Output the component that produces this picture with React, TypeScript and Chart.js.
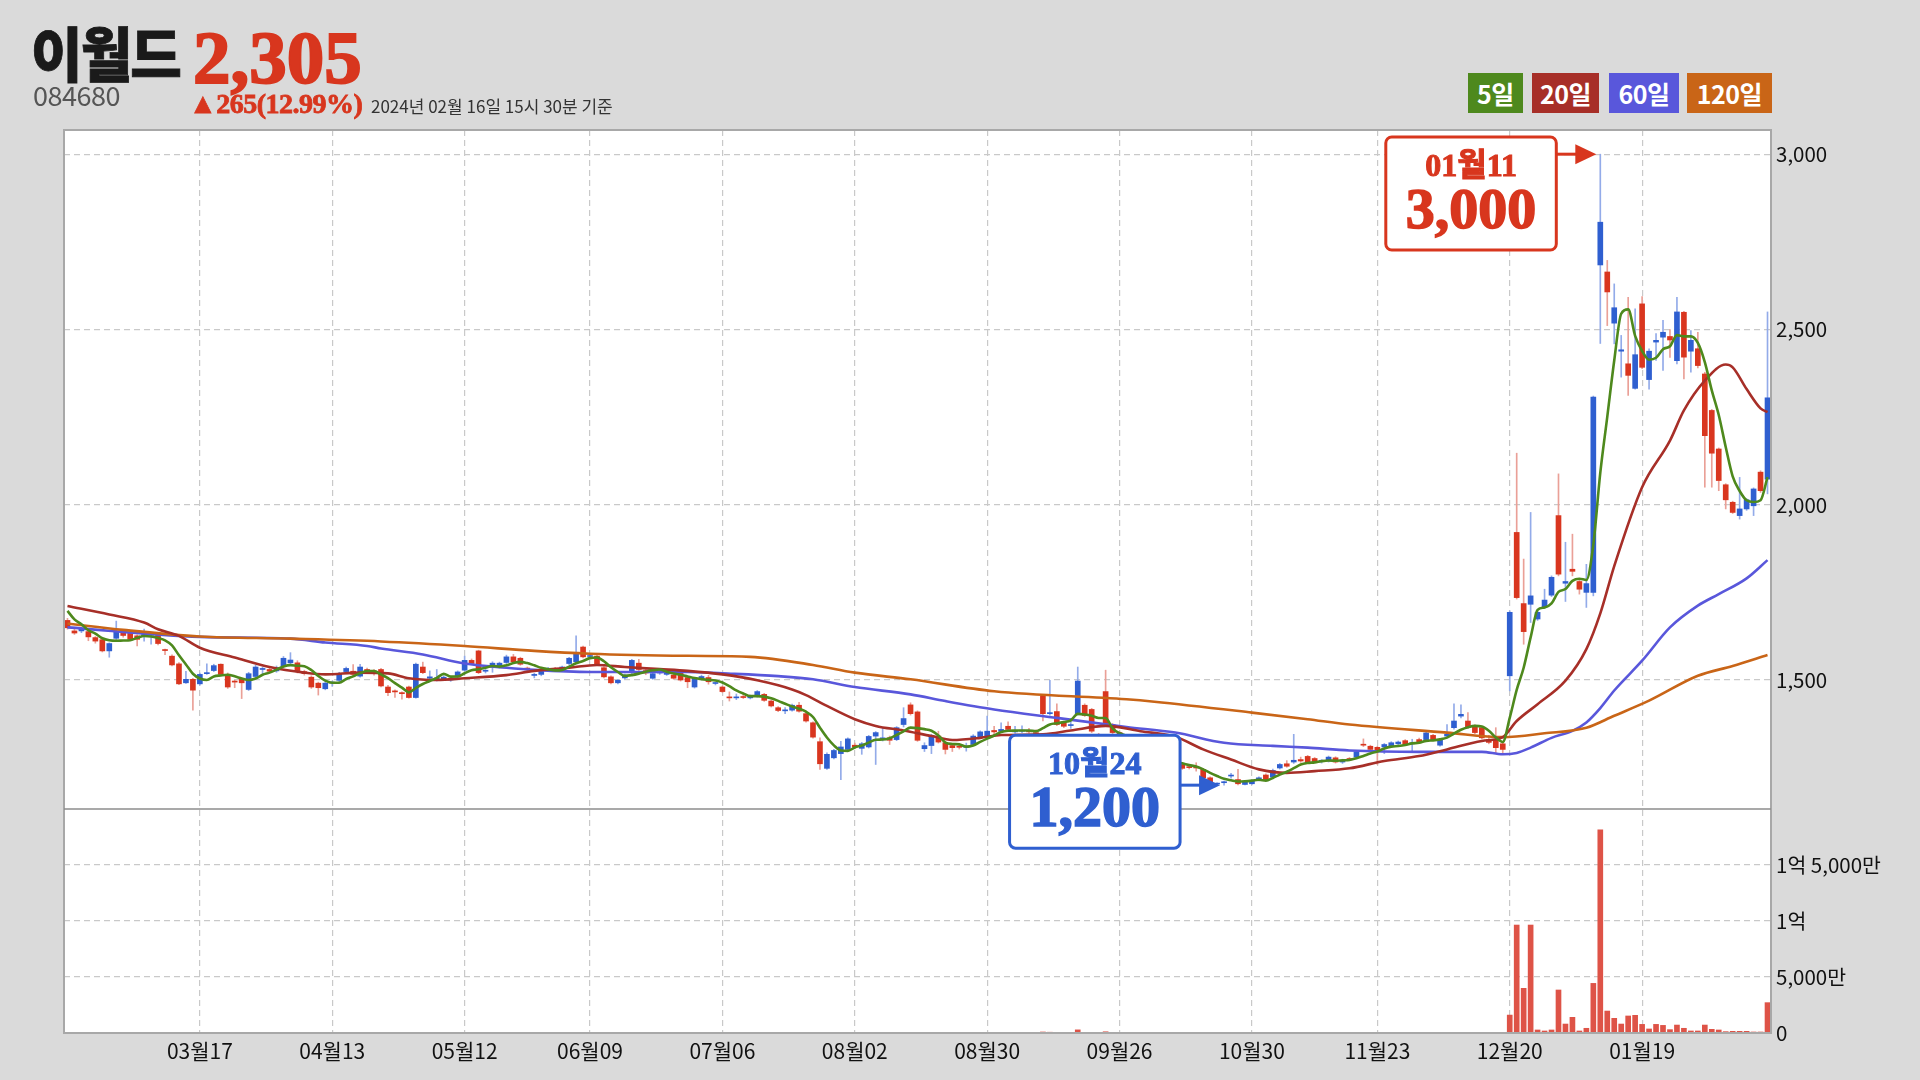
import React, { useEffect, useRef } from 'react';
import { Chart, registerables } from 'chart.js';

Chart.register(...registerables);

// ---------- categories ----------
const START_DATE = '2023-02-17';
const END_DATE = '2024-02-16';
const HOLIDAYS = [
  '2023-03-01', '2023-05-01', '2023-05-05', '2023-05-29', '2023-06-06', '2023-08-15',
  '2023-09-28', '2023-09-29', '2023-10-02', '2023-10-03', '2023-10-09', '2023-12-25',
  '2023-12-29', '2024-01-01', '2024-02-09', '2024-02-12',
];
const TICK_LABELS = ['03월17', '04월13', '05월12', '06월09', '07월06', '08월02', '08월30', '09월26', '10월30', '11월23', '12월20', '01월19'];

// ---------- series values (원) ----------
const OPEN = [
  1670, 1640, 1640, 1638, 1621, 1615, 1583, 1619, 1635, 1633,
  1626, 1625, 1628, 1630, 1586, 1568, 1546, 1492, 1502, 1489,
  1518, 1527, 1545, 1516, 1497, 1504, 1473, 1510, 1530, 1530,
  1526, 1539, 1549, 1549, 1524, 1508, 1491, 1475, 1491, 1499,
  1524, 1525, 1511, 1530, 1525, 1530, 1480, 1469, 1464, 1480,
  1450, 1537, 1505, 1503, 1503, 1500, 1509, 1528, 1556, 1583,
  1525, 1537, 1537, 1550, 1566, 1562, 1534, 1513, 1516, 1530,
  1533, 1530, 1547, 1552, 1594, 1567, 1568, 1535, 1509, 1492,
  1506, 1521, 1548, 1527, 1505, 1520, 1516, 1514, 1521, 1507,
  1480, 1505, 1507, 1490, 1480, 1451, 1449, 1452, 1449, 1454,
  1459, 1440, 1421, 1412, 1414, 1428, 1404, 1378, 1324, 1248,
  1278, 1290, 1302, 1314, 1305, 1309, 1340, 1331, 1335, 1330,
  1373, 1429, 1409, 1304, 1313, 1340, 1321, 1313, 1310, 1308,
  1316, 1338, 1340, 1356, 1354, 1368, 1352, 1354, 1356, 1350,
  1454, 1404, 1410, 1378, 1370, 1404, 1428, 1416, 1345, 1467,
  1373, 1350, 1330, 1320, 1300, 1292, 1282, 1276, 1270, 1262,
  1259, 1252, 1252, 1245, 1221, 1203, 1207, 1226, 1216, 1202,
  1204, 1216, 1229, 1223, 1249, 1261, 1266, 1273, 1282, 1276,
  1267, 1269, 1278, 1266, 1276, 1280, 1316, 1311, 1308, 1309,
  1311, 1318, 1327, 1318, 1330, 1330, 1342, 1314, 1340, 1364,
  1397, 1383, 1369, 1364, 1330, 1328, 1318, 1512, 1921, 1718,
  1716, 1674, 1707, 1742, 1969, 1776, 1816, 1781, 1750, 1750,
  2684, 2664, 2518, 2438, 2402, 2332, 2573, 2357, 2464, 2478,
  2480, 2411, 2549, 2438, 2445, 2373, 2269, 2159, 2057, 2007,
  1969, 1988, 1997, 2093, 2073,
];
const HIGH = [
  1676, 1645, 1650, 1641, 1624, 1618, 1606, 1668, 1640, 1636,
  1629, 1645, 1636, 1635, 1588, 1572, 1550, 1525, 1505, 1520,
  1546, 1545, 1546, 1520, 1499, 1507, 1522, 1542, 1537, 1534,
  1540, 1567, 1578, 1555, 1528, 1512, 1494, 1495, 1497, 1522,
  1537, 1544, 1545, 1534, 1530, 1533, 1485, 1472, 1466, 1483,
  1548, 1551, 1526, 1530, 1512, 1508, 1526, 1568, 1560, 1585,
  1530, 1552, 1551, 1571, 1573, 1565, 1537, 1519, 1533, 1536,
  1536, 1540, 1565, 1626, 1597, 1572, 1571, 1538, 1512, 1502,
  1517, 1559, 1559, 1530, 1521, 1528, 1530, 1517, 1524, 1511,
  1505, 1514, 1513, 1494, 1483, 1466, 1460, 1460, 1457, 1470,
  1462, 1443, 1424, 1421, 1431, 1436, 1407, 1381, 1335, 1292,
  1302, 1325, 1335, 1320, 1322, 1342, 1353, 1362, 1340, 1367,
  1421, 1435, 1412, 1321, 1345, 1354, 1324, 1316, 1314, 1320,
  1344, 1355, 1397, 1368, 1378, 1381, 1368, 1369, 1362, 1358,
  1458, 1499, 1432, 1381, 1390, 1537, 1432, 1419, 1348, 1528,
  1376, 1354, 1340, 1345, 1304, 1296, 1286, 1280, 1273, 1266,
  1262, 1256, 1264, 1248, 1224, 1207, 1212, 1234, 1245, 1214,
  1216, 1224, 1232, 1246, 1262, 1270, 1345, 1280, 1285, 1279,
  1273, 1283, 1281, 1274, 1279, 1298, 1332, 1314, 1311, 1319,
  1324, 1326, 1330, 1331, 1334, 1352, 1345, 1333, 1373, 1432,
  1429, 1407, 1372, 1367, 1342, 1364, 1321, 1697, 2147, 1845,
  1978, 1697, 1759, 1797, 2088, 1893, 1916, 1785, 1830, 2310,
  3000, 2697, 2630, 2483, 2592, 2559, 2594, 2445, 2488, 2526,
  2500, 2592, 2552, 2497, 2492, 2378, 2272, 2162, 2060, 2010,
  2078, 2017, 2048, 2097, 2550,
];
const LOW = [
  1645, 1630, 1635, 1612, 1605, 1580, 1565, 1615, 1622, 1612,
  1597, 1611, 1602, 1600, 1572, 1540, 1487, 1490, 1414, 1485,
  1516, 1524, 1514, 1476, 1478, 1447, 1470, 1506, 1516, 1520,
  1522, 1535, 1545, 1520, 1514, 1476, 1457, 1472, 1482, 1495,
  1520, 1512, 1508, 1522, 1514, 1480, 1455, 1450, 1445, 1448,
  1448, 1518, 1497, 1497, 1499, 1496, 1506, 1525, 1544, 1518,
  1520, 1522, 1534, 1547, 1549, 1542, 1527, 1506, 1512, 1526,
  1524, 1527, 1544, 1549, 1563, 1564, 1542, 1506, 1489, 1489,
  1503, 1518, 1527, 1515, 1502, 1516, 1513, 1502, 1497, 1478,
  1477, 1500, 1488, 1486, 1464, 1440, 1444, 1447, 1446, 1451,
  1439, 1423, 1410, 1404, 1411, 1408, 1380, 1334, 1245, 1245,
  1275, 1216, 1299, 1305, 1288, 1306, 1259, 1326, 1316, 1327,
  1366, 1400, 1325, 1296, 1290, 1320, 1289, 1296, 1303, 1297,
  1313, 1335, 1337, 1340, 1350, 1356, 1348, 1350, 1348, 1344,
  1383, 1400, 1370, 1364, 1362, 1400, 1396, 1350, 1331, 1370,
  1347, 1326, 1314, 1296, 1286, 1276, 1270, 1264, 1258, 1254,
  1245, 1246, 1240, 1218, 1204, 1201, 1200, 1220, 1201, 1201,
  1202, 1212, 1213, 1220, 1246, 1251, 1262, 1265, 1262, 1264,
  1263, 1266, 1263, 1262, 1270, 1277, 1310, 1299, 1259, 1290,
  1308, 1315, 1313, 1295, 1321, 1327, 1327, 1311, 1336, 1360,
  1392, 1362, 1347, 1332, 1318, 1292, 1292, 1469, 1731, 1602,
  1664, 1670, 1704, 1738, 1797, 1724, 1797, 1745, 1707, 1740,
  2460, 2511, 2459, 2364, 2312, 2330, 2388, 2330, 2412, 2383,
  2420, 2402, 2359, 2378, 2390, 2050, 2050, 2040, 1988, 1975,
  1959, 1984, 1969, 2035, 2031,
];
const CLOSE = [
  1649, 1634, 1645, 1623, 1611, 1583, 1604, 1638, 1627, 1616,
  1616, 1630, 1632, 1604, 1584, 1543, 1489, 1502, 1471, 1516,
  1521, 1541, 1516, 1480, 1494, 1492, 1518, 1537, 1533, 1525,
  1535, 1562, 1557, 1525, 1518, 1480, 1478, 1491, 1494, 1518,
  1533, 1516, 1537, 1525, 1518, 1483, 1464, 1466, 1461, 1450,
  1545, 1521, 1509, 1505, 1508, 1505, 1523, 1556, 1547, 1521,
  1527, 1548, 1548, 1566, 1552, 1545, 1530, 1516, 1530, 1533,
  1528, 1537, 1562, 1578, 1566, 1569, 1545, 1509, 1492, 1499,
  1514, 1556, 1530, 1520, 1518, 1525, 1526, 1505, 1500, 1495,
  1502, 1510, 1495, 1491, 1467, 1449, 1450, 1450, 1454, 1467,
  1442, 1426, 1413, 1413, 1428, 1411, 1383, 1337, 1261, 1288,
  1299, 1309, 1332, 1309, 1318, 1339, 1350, 1335, 1328, 1364,
  1390, 1404, 1328, 1313, 1342, 1323, 1302, 1307, 1308, 1310,
  1340, 1352, 1354, 1352, 1359, 1359, 1354, 1356, 1352, 1347,
  1404, 1407, 1373, 1368, 1372, 1497, 1399, 1354, 1335, 1373,
  1350, 1330, 1318, 1300, 1290, 1280, 1275, 1268, 1262, 1258,
  1248, 1250, 1249, 1221, 1207, 1204, 1209, 1228, 1204, 1211,
  1213, 1221, 1216, 1242, 1259, 1254, 1271, 1269, 1264, 1267,
  1271, 1280, 1266, 1270, 1272, 1295, 1314, 1302, 1297, 1316,
  1321, 1323, 1316, 1320, 1324, 1349, 1330, 1330, 1345, 1383,
  1402, 1366, 1350, 1335, 1322, 1307, 1302, 1693, 1735, 1638,
  1740, 1693, 1728, 1793, 1802, 1781, 1810, 1759, 1775, 2307,
  2806, 2607, 2562, 2442, 2369, 2428, 2392, 2438, 2469, 2492,
  2470, 2550, 2421, 2469, 2397, 2197, 2147, 2069, 2014, 1978,
  1988, 2014, 2045, 2040, 2305,
];
// 거래량 (만주)
const VOLUME = [
  35, 28, 22, 30, 25, 40, 33, 45, 26, 24, 22, 30, 28, 35, 30, 42, 55, 38, 60, 40,
  32, 30, 28, 35, 25, 30, 38, 34, 22, 20, 24, 36, 30, 28, 22, 30, 26, 24, 20, 28,
  26, 30, 34, 22, 20, 28, 30, 22, 20, 24, 58, 40, 28, 22, 20, 18, 26, 38, 26, 34,
  20, 24, 22, 30, 26, 24, 18, 20, 24, 20, 18, 20, 30, 62, 40, 22, 26, 30, 26, 20,
  22, 36, 30, 20, 22, 20, 24, 22, 26, 24, 26, 20, 22, 18, 24, 26, 18, 16, 18, 22,
  22, 24, 20, 18, 22, 22, 30, 40, 55, 38, 30, 42, 36, 22, 24, 30, 36, 26, 20, 32,
  40, 38, 44, 28, 30, 24, 22, 18, 16, 18, 26, 24, 36, 22, 24, 26, 18, 16, 18, 20,
  90, 70, 45, 30, 28, 280, 60, 45, 30, 110, 45, 36, 30, 34, 28, 24, 22, 20, 18, 20,
  20, 18, 22, 28, 26, 20, 22, 24, 26, 20, 18, 22, 20, 26, 28, 24, 40, 24, 22, 20,
  18, 22, 20, 18, 20, 26, 34, 24, 28, 22, 20, 18, 24, 20, 22, 30, 24, 26, 22, 44,
  50, 36, 30, 32, 24, 48, 40,
  1600, 9640, 3990, 9640, 270, 180, 270, 3840, 800, 1400,
  180, 420, 4430, 18130, 1960, 1310, 800, 1520, 1580, 770,
  360, 770, 680, 300, 710, 420, 180, 180, 710, 330,
  270, 120, 150, 150, 150, 90, 90, 2710,
];

// 이동평균
const MA5_HEAD = [1697, 1673, 1659, 1642];
const MA20_PTS = [
  [0, 1711], [6, 1687], [11, 1664], [13, 1645], [16, 1626], [19, 1592], [24, 1564], [29, 1537],
  [34, 1521], [37, 1516], [42, 1521], [46, 1519], [49, 1505], [53, 1500], [57, 1505], [63, 1514],
  [67, 1526], [72, 1535], [76, 1543], [80, 1537], [85, 1531], [89, 1526], [94, 1516], [99, 1499],
  [104, 1473], [106, 1457], [109, 1426], [113, 1388], [116, 1369], [120, 1356], [124, 1340],
  [127, 1329], [131, 1335], [134, 1343], [140, 1345], [144, 1356], [149, 1369], [154, 1354],
  [159, 1338], [163, 1302], [167, 1273], [171, 1245], [175, 1235], [179, 1240], [184, 1248],
  [189, 1269], [194, 1283], [198, 1302], [203, 1326], [206, 1337], [208, 1383], [211, 1431],
  [215, 1498], [218, 1588], [220, 1690], [222, 1825], [226, 2050], [230, 2183], [232, 2269],
  [235, 2354], [238, 2400], [239, 2392], [241, 2330], [243, 2275], [244, 2264],
];
const MA60_PTS = [
  [0, 1650], [19, 1623], [32, 1618], [37, 1607], [43, 1597], [45, 1590], [51, 1573], [57, 1547],
  [63, 1535], [67, 1529], [75, 1523], [82, 1523], [89, 1523], [94, 1519], [102, 1511], [107, 1502],
  [113, 1480], [121, 1459], [126, 1440], [133, 1416], [142, 1392], [152, 1366], [159, 1350],
  [166, 1321], [173, 1312], [178, 1307], [184, 1299], [194, 1295], [203, 1295], [206, 1288],
  [208, 1292], [210, 1307], [213, 1335], [216, 1355], [218, 1379], [220, 1420], [222, 1470],
  [226, 1555], [230, 1650], [234, 1712], [237, 1745], [241, 1790], [244, 1842],
];
const MA120_PTS = [
  [0, 1661], [8, 1643], [19, 1624], [32, 1618], [45, 1610], [57, 1597], [67, 1583], [75, 1575],
  [89, 1569], [98, 1566], [107, 1543], [113, 1521], [121, 1502], [133, 1468], [152, 1445],
  [156, 1438], [170, 1407], [178, 1388], [184, 1373], [198, 1350], [206, 1337], [212, 1348],
  [218, 1364], [222, 1398], [227, 1441], [234, 1512], [239, 1540], [244, 1571],
];

const MA_NAMES = ['5일', '20일', '60일', '120일'];
const MA_COLORS = ['#4e891d', '#a72f28', '#5957db', '#c96517'];

const PRICE_TICKS = [1500, 2000, 2500, 3000];
const VOLUME_TICKS = [0, 5000, 10000, 15000];
const PRICE_MIN = 1132;
const PRICE_MAX = 3069;
const VOLUME_MAX = 20000;

const STOCK_NAME = '이월드';
const STOCK_CODE = '084680';
const LAST_PRICE = 2305;
const CHANGE = 265;
const CHANGE_PCT = 12.99;
const AS_OF = '2024년 02월 16일 15시 30분 기준';

// ---------- helpers ----------
function buildLabels(): string[] {
  const out: string[] = [];
  const [sy, sm, sd] = START_DATE.split('-').map(Number);
  const [ey, em, ed] = END_DATE.split('-').map(Number);
  const d = new Date(Date.UTC(sy, sm - 1, sd));
  const end = Date.UTC(ey, em - 1, ed);
  while (d.getTime() <= end) {
    const dow = d.getUTCDay();
    const iso = d.toISOString().slice(0, 10);
    if (dow !== 0 && dow !== 6 && !HOLIDAYS.includes(iso)) {
      out.push(`${iso.slice(5, 7)}월${iso.slice(8, 10)}`);
    }
    d.setUTCDate(d.getUTCDate() + 1);
  }
  return out;
}
const LABELS = buildLabels();
const N = LABELS.length;

function sparse(pts: number[][]): (number | null)[] {
  const arr: (number | null)[] = new Array(N).fill(null);
  pts.forEach(([i, v]) => { arr[i] = v; });
  return arr;
}
function ma5(): number[] {
  return CLOSE.map((_, i) => {
    if (i < MA5_HEAD.length) return MA5_HEAD[i];
    let s = 0;
    for (let k = i - 4; k <= i; k++) s += CLOSE[k];
    return s / 5;
  });
}
function fmtVolume(v: number): string {
  if (v === 0) return '0';
  const eok = Math.floor(v / 10000);
  const man = v % 10000;
  if (eok > 0) return man ? `${eok}억 ${man.toLocaleString('en-US')}만` : `${eok}억`;
  return `${man.toLocaleString('en-US')}만`;
}

const UP = '#2f5fd0';
const DOWN = '#d9361f';
const UP_WICK = '#93abe9';
const DOWN_WICK = '#eaa097';

function drawCallout(ctx: CanvasRenderingContext2D, chart: any, idx: number, price: number, color: string) {
  const x = chart.scales.x.getPixelForValue(idx);
  const y = chart.scales.y.getPixelForValue(price);
  const tipX = x - 4;
  const boxRight = tipX - 40;
  const dateText = LABELS[idx];
  const valueText = price.toLocaleString('en-US');
  ctx.font = "bold 58px 'Liberation Serif', serif";
  const w = ctx.measureText(valueText).width + 40;
  const h = 113;
  const left = boxRight - w;
  const top = Math.max(chart.chartArea.top + 7, y - 50);
  ctx.save();
  ctx.fillStyle = '#ffffff';
  ctx.strokeStyle = color;
  ctx.lineWidth = 3;
  ctx.beginPath();
  (ctx as any).roundRect(left, top, w, h, 6);
  ctx.fill();
  ctx.stroke();
  ctx.beginPath();
  ctx.moveTo(boxRight, y);
  ctx.lineTo(tipX - 20, y);
  ctx.stroke();
  ctx.beginPath();
  ctx.moveTo(tipX - 21, y - 10);
  ctx.lineTo(tipX, y);
  ctx.lineTo(tipX - 21, y + 10);
  ctx.closePath();
  ctx.fillStyle = color;
  ctx.fill();
  ctx.textAlign = 'center';
  ctx.textBaseline = 'middle';
  ctx.lineWidth = 1;
  ctx.font = "bold 32px 'Liberation Serif', 'Noto Sans CJK KR', serif";
  ctx.fillText(dateText, left + w / 2, top + 31);
  ctx.strokeText(dateText, left + w / 2, top + 31);
  ctx.lineWidth = 1.6;
  ctx.font = "bold 58px 'Liberation Serif', serif";
  ctx.fillText(valueText, left + w / 2, top + 76);
  ctx.strokeText(valueText, left + w / 2, top + 76);
  ctx.restore();
}

const framePlugin = {
  id: 'frameAndCallouts',
  beforeDraw(chart: any) {
    const { ctx, chartArea: a } = chart;
    ctx.save();
    ctx.fillStyle = '#ffffff';
    ctx.fillRect(a.left, a.top, a.right - a.left, a.bottom - a.top);
    ctx.restore();
  },
  afterDraw(chart: any) {
    const { ctx, chartArea: a } = chart;
    ctx.save();
    ctx.strokeStyle = '#a8a8a8';
    ctx.lineWidth = 2;
    ctx.strokeRect(a.left, a.top, a.right - a.left, a.bottom - a.top);
    const yv = chart.scales.yv;
    ctx.strokeStyle = '#8c8c8c';
    ctx.lineWidth = 1.5;
    ctx.beginPath();
    ctx.moveTo(a.left, yv.top);
    ctx.lineTo(a.right, yv.top);
    ctx.stroke();
    ctx.restore();
    let iMax = 0;
    let iMin = 0;
    HIGH.forEach((v, i) => { if (v > HIGH[iMax]) iMax = i; });
    LOW.forEach((v, i) => { if (v < LOW[iMin]) iMin = i; });
    drawCallout(ctx, chart, iMax, HIGH[iMax], '#d8361e');
    drawCallout(ctx, chart, iMin, LOW[iMin], '#2f5fd0');
  },
};

export default function App() {
  const canvasRef = useRef<HTMLCanvasElement | null>(null);

  useEffect(() => {
    if (!canvasRef.current) return;
    Chart.defaults.font.family = "'Noto Sans CJK KR', sans-serif";
    const isUp = CLOSE.map((c, i) => c >= OPEN[i]);
    const gridColor = '#c9c9c9';
    const chart = new Chart(canvasRef.current, {
      type: 'bar',
      data: {
        labels: LABELS,
        datasets: [
          {
            type: 'line', label: MA_NAMES[0], data: ma5(), borderColor: MA_COLORS[0], borderWidth: 2.6,
            pointRadius: 0, yAxisID: 'y', order: 1, cubicInterpolationMode: 'monotone', spanGaps: true,
          } as any,
          {
            type: 'line', label: MA_NAMES[1], data: sparse(MA20_PTS), borderColor: MA_COLORS[1], borderWidth: 2.6,
            pointRadius: 0, yAxisID: 'y', order: 2, cubicInterpolationMode: 'monotone', spanGaps: true,
          },
          {
            type: 'line', label: MA_NAMES[3], data: sparse(MA120_PTS), borderColor: MA_COLORS[3], borderWidth: 2.6,
            pointRadius: 0, yAxisID: 'y', order: 3, cubicInterpolationMode: 'monotone', spanGaps: true,
          },
          {
            type: 'line', label: MA_NAMES[2], data: sparse(MA60_PTS), borderColor: MA_COLORS[2], borderWidth: 2.6,
            pointRadius: 0, yAxisID: 'y', order: 4, cubicInterpolationMode: 'monotone', spanGaps: true,
          },
          {
            type: 'bar', label: 'body', data: OPEN.map((o, i) => [o, CLOSE[i]]),
            backgroundColor: isUp.map((u) => (u ? UP : DOWN)), barThickness: 5, grouped: false,
            minBarLength: 1, yAxisID: 'y', order: 10, borderWidth: 0,
          },
          {
            type: 'bar', label: 'wick', data: LOW.map((l, i) => [l, HIGH[i]]),
            backgroundColor: isUp.map((u) => (u ? UP_WICK : DOWN_WICK)), barThickness: 1, grouped: false,
            yAxisID: 'y', order: 11, borderWidth: 0,
          },
          {
            type: 'bar', label: 'volume', data: VOLUME, backgroundColor: '#de5347', barThickness: 5,
            grouped: false, yAxisID: 'yv', order: 12, borderWidth: 0,
          },
        ] as any,
      },
      options: {
        responsive: false,
        animation: false,
        events: [],
        layout: { padding: { left: 64, top: 130, right: 0, bottom: 0 } },
        plugins: { legend: { display: false }, tooltip: { enabled: false } },
        scales: {
          x: {
            type: 'category',
            offset: true,
            grid: { offset: false, color: gridColor, lineWidth: 1.2, drawTicks: false },
            border: { display: false, dash: [6, 4] },
            ticks: {
              autoSkip: false, maxRotation: 0, minRotation: 0, padding: 5,
              color: '#111', font: { size: 21 },
            },
            afterBuildTicks: (s: any) => {
              s.ticks = s.ticks.filter((t: any) => TICK_LABELS.includes(LABELS[t.value]));
            },
            afterFit: (s: any) => { s.height = 47; },
          },
          y: {
            type: 'linear', position: 'right', stack: 'panes', stackWeight: 679,
            min: PRICE_MIN, max: PRICE_MAX,
            grid: { color: gridColor, lineWidth: 1.2, drawTicks: false },
            border: { display: false, dash: [6, 4] },
            ticks: {
              padding: 5, color: '#111', font: { size: 20.5 },
              callback: (v: any) => Number(v).toLocaleString('en-US'),
            },
            afterBuildTicks: (s: any) => { s.ticks = PRICE_TICKS.map((v) => ({ value: v })); },
            afterFit: (s: any) => { s.width = 149; },
          },
          yv: {
            type: 'linear', position: 'right', stack: 'panes', stackWeight: 224,
            min: 0, max: VOLUME_MAX,
            grid: { color: gridColor, lineWidth: 1.2, drawTicks: false },
            border: { display: false, dash: [6, 4] },
            ticks: {
              padding: 5, color: '#111', font: { size: 20.5 },
              callback: (v: any) => fmtVolume(Number(v)),
            },
            afterBuildTicks: (s: any) => { s.ticks = VOLUME_TICKS.map((v) => ({ value: v })); },
            afterFit: (s: any) => { s.width = 149; },
          },
        } as any,
      },
      plugins: [framePlugin],
    });
    return () => chart.destroy();
  }, []);

  const sans = "'Noto Sans CJK KR', sans-serif";
  const serif = "'Liberation Serif', 'Noto Sans CJK KR', serif";
  const legendBoxes = [
    { left: 1468, width: 55 },
    { left: 1532, width: 67 },
    { left: 1609, width: 70 },
    { left: 1687, width: 85 },
  ];

  return (
    <div style={{ position: 'fixed', left: 0, top: 0, width: 1920, height: 1080, background: '#dadada', overflow: 'hidden' }}>
      <canvas ref={canvasRef} width={1920} height={1080} style={{ position: 'absolute', left: 0, top: 0, width: 1920, height: 1080 }} />
      <div style={{ position: 'absolute', left: 31, top: 22, fontFamily: sans, fontWeight: 900, fontSize: 59, lineHeight: '59px', color: '#1a1a1a', letterSpacing: -2, transform: 'scaleX(0.95)', transformOrigin: 'left top', whiteSpace: 'nowrap', WebkitTextStroke: '0.8px #1a1a1a' }}>{STOCK_NAME}</div>
      <div style={{ position: 'absolute', left: 193, top: 20, fontFamily: serif, fontWeight: 700, fontSize: 75, lineHeight: '75px', color: '#d8361e', whiteSpace: 'nowrap', WebkitTextStroke: '2px #d8361e' }}>{LAST_PRICE.toLocaleString('en-US')}</div>
      <div style={{ position: 'absolute', left: 33, top: 81, fontFamily: sans, fontSize: 27, lineHeight: '27px', color: '#555', letterSpacing: -0.5, whiteSpace: 'nowrap' }}>{STOCK_CODE}</div>
      <div style={{ position: 'absolute', left: 189, top: 90, fontFamily: serif, fontWeight: 700, fontSize: 28, lineHeight: '28px', color: '#d8361e', whiteSpace: 'nowrap', letterSpacing: -0.5, WebkitTextStroke: '0.8px #d8361e' }}>{`▲${CHANGE}(${CHANGE_PCT.toFixed(2)}%)`}</div>
      <div style={{ position: 'absolute', left: 371, top: 97, fontFamily: sans, fontSize: 17, lineHeight: '17px', color: '#333', whiteSpace: 'nowrap' }}>{AS_OF}</div>
      {MA_NAMES.map((name, i) => (
        <div key={name} style={{ position: 'absolute', left: legendBoxes[i].left, top: 73, width: legendBoxes[i].width, height: 40, background: MA_COLORS[i], color: '#fff', fontFamily: sans, fontWeight: 700, fontSize: 25, display: 'flex', alignItems: 'center', justifyContent: 'center', letterSpacing: -0.5 }}>{name}</div>
      ))}
    </div>
  );
}
